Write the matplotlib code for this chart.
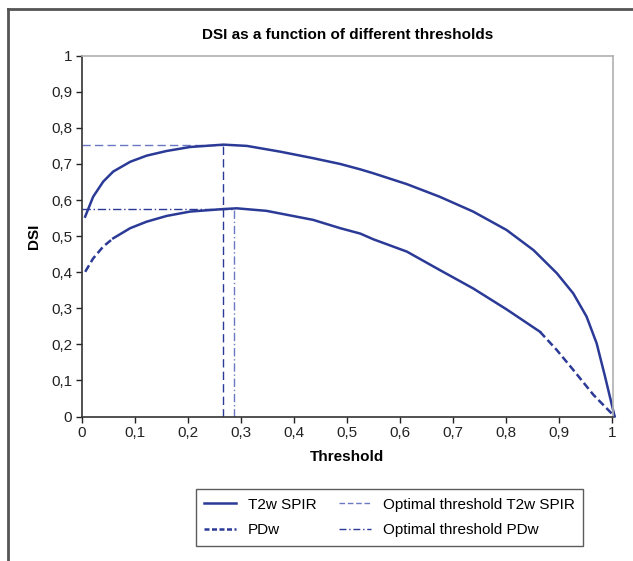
import matplotlib
matplotlib.use("Agg")
import matplotlib.pyplot as plt
from matplotlib.lines import Line2D

plt.rcParams['font.family'] = ['Liberation Sans', 'DejaVu Sans']

# Data
t2w_x = [0.006, 0.021, 0.040, 0.059, 0.091, 0.122, 0.160, 0.204, 0.267, 0.311, 0.374, 0.436, 0.487,
         0.525, 0.550, 0.613, 0.675, 0.738, 0.801, 0.852, 0.896, 0.927, 0.952, 0.971, 0.987, 1.005]
t2w_y = [0.554, 0.609, 0.651, 0.679, 0.706, 0.723, 0.736, 0.747, 0.7535, 0.750, 0.734, 0.716, 0.700,
         0.685, 0.674, 0.644, 0.609, 0.568, 0.517, 0.461, 0.397, 0.341, 0.277, 0.203, 0.110, 0.0]

pdw_x = [0.006, 0.021, 0.040, 0.059, 0.091, 0.122, 0.160, 0.204, 0.267, 0.292, 0.348, 0.436, 0.487,
         0.525, 0.550, 0.613, 0.675, 0.738, 0.801, 0.864, 0.896, 0.927, 0.965, 1.005]
pdw_y = [0.401, 0.438, 0.471, 0.494, 0.522, 0.540, 0.556, 0.568, 0.575, 0.577, 0.570, 0.545, 0.522,
         0.507, 0.491, 0.457, 0.406, 0.355, 0.297, 0.235, 0.184, 0.129, 0.060, 0.0]

opt_t2w_x = 0.266
opt_t2w_y = 0.7535
opt_pdw_x = 0.287
opt_pdw_y = 0.576

x_ticks = [0, 0.1, 0.2, 0.3, 0.4, 0.5, 0.6, 0.7, 0.8, 0.9, 1.0]
x_tick_labels = ['0', '0,1', '0,2', '0,3', '0,4', '0,5', '0,6', '0,7', '0,8', '0,9', '1']
y_ticks = [0, 0.1, 0.2, 0.3, 0.4, 0.5, 0.6, 0.7, 0.8, 0.9, 1.0]
y_tick_labels = ['0', '0,1', '0,2', '0,3', '0,4', '0,5', '0,6', '0,7', '0,8', '0,9', '1']

dark = '#2B3A96'
light = '#6A78C4'

fig = plt.figure(figsize=(6.33, 5.61), dpi=100)
ax = fig.add_axes([82/633, 1-416.5/561, (613-82)/633, (416.5-55.7)/561])

# Outer frame lines (top and left)
fig.add_artist(Line2D([8/633, 1], [1-9/561, 1-9/561], color='#555555', lw=2, transform=fig.transFigure))
fig.add_artist(Line2D([8/633, 8/633], [0, 1-9/561], color='#555555', lw=2, transform=fig.transFigure))

# Optimal threshold lines
ax.plot([0, opt_t2w_x], [opt_t2w_y, opt_t2w_y], color=light, lw=1.0, dashes=(6, 3))
ax.plot([opt_t2w_x, opt_t2w_x], [0, opt_t2w_y], color=dark, lw=1.0, dashes=(6, 3))
ax.plot([0, opt_pdw_x], [opt_pdw_y, opt_pdw_y], color=dark, lw=1.0, dashes=(6, 2, 1, 2))
ax.plot([opt_pdw_x, opt_pdw_x], [0, opt_pdw_y], color=light, lw=1.0, dashes=(6, 2, 1, 2))

# Curves
ax.plot(t2w_x, t2w_y, color=dark, lw=1.8, clip_on=False, solid_joinstyle='round')
# PDw: dashes visible at the ends, appearing solid in the middle (as in the reference)
ax.plot(pdw_x[:4], pdw_y[:4], color=dark, lw=1.8, dashes=(3, 1.5), clip_on=False)
ax.plot(pdw_x[3:20], pdw_y[3:20], color=dark, lw=1.8, solid_joinstyle='round')
ax.plot(pdw_x[19:], pdw_y[19:], color=dark, lw=1.8, dashes=(3, 1.5), clip_on=False)

ax.set_xlim(0, 1.0019)
ax.set_ylim(0, 1)
ax.set_xticks(x_ticks)
ax.set_xticklabels(x_tick_labels)
ax.set_yticks(y_ticks)
ax.set_yticklabels(y_tick_labels)
ax.tick_params(direction='out', length=4, width=1, labelsize=11, colors='#222222', pad=3)

for s in ['left', 'bottom']:
    ax.spines[s].set_color('#333333')
    ax.spines[s].set_linewidth(1.2)
for s in ['top', 'right']:
    ax.spines[s].set_color('#b0b0b0')
    ax.spines[s].set_linewidth(1.2)

ax.set_title('DSI as a function of different thresholds', fontsize=11, fontweight='bold', pad=12)
ax.set_xlabel('Threshold', fontsize=11, fontweight='bold', labelpad=7)
ax.set_ylabel('DSI', fontsize=11, fontweight='bold', labelpad=7)

handles = [
    Line2D([], [], color=dark, lw=1.8),
    Line2D([], [], color=dark, lw=1.8, dashes=(2, 1)),
    Line2D([], [], color=light, lw=1.0, dashes=(4, 2)),
    Line2D([], [], color=dark, lw=1.0, dashes=(5, 2, 1, 2)),
]
labels = ['T2w SPIR', 'PDw', 'Optimal threshold T2w SPIR', 'Optimal threshold PDw']
leg = fig.legend(handles, labels, ncol=2, loc='center', bbox_to_anchor=((194+585)/2/633, 1-(489+546)/2/561),
                 fontsize=11, frameon=True, fancybox=False, edgecolor='#333333', handlelength=2.1,
                 columnspacing=1.5, handletextpad=0.75, borderpad=0.55, labelspacing=0.75)
leg.get_frame().set_linewidth(1.0)

fig.savefig('out.png', dpi=100)
